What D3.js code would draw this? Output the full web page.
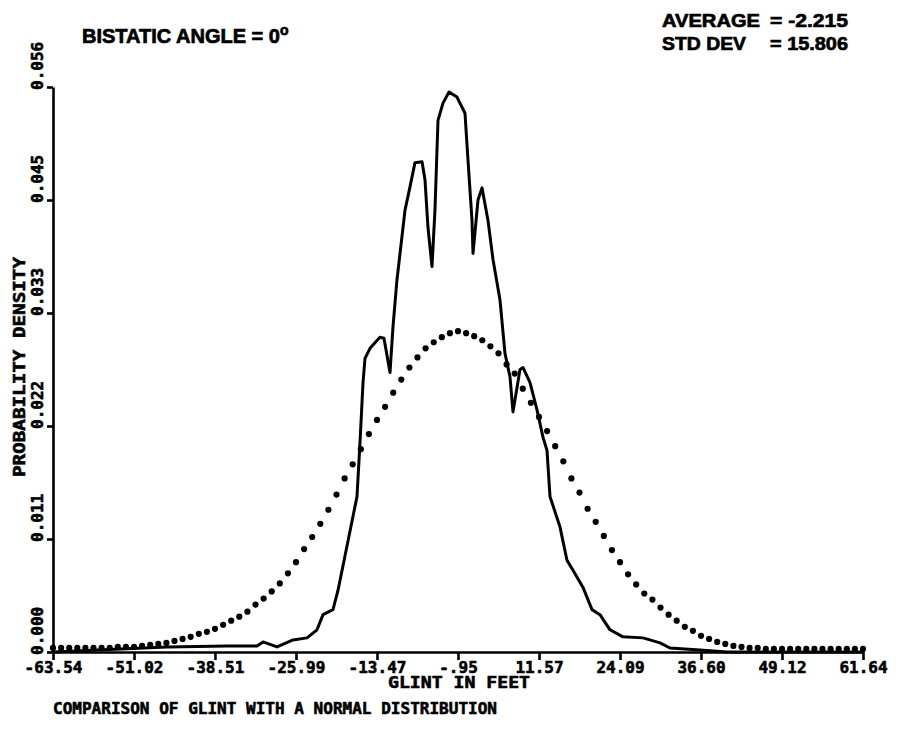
<!DOCTYPE html>
<html>
<head>
<meta charset="utf-8">
<script src="https://cdn.jsdelivr.net/npm/d3@7"></script>
<style>
  body { margin: 0; background: #fff; }
  svg { display: block; background: #fff; }
  .axis path, .axis line { stroke: #000; stroke-width: 2.6; }
  .tick-label { font-family: 'DejaVu Sans Mono', monospace; font-weight: bold; font-size: 16px; fill: #000; stroke: #000; stroke-width: 0.6; }
  .head { font-family: 'Liberation Sans', Arial, sans-serif; font-weight: bold; fill: #000; stroke: #000; stroke-width: 0.7; }
</style>
</head>
<body>
<svg width="908" height="732"></svg>
<script>
// glint histogram (solid line)
const glintX = [-63.54, -45.92, -36.65, -32.01, -31.09, -28.92, -26.45, -24.29, -22.74, -21.81,
  -20.27, -19.50, -16.56, -16.10, -15.63, -15.32, -14.55, -13.01, -12.39, -11.46,
  -11.00, -10.38, -9.91, -9.14, -8.37, -7.60, -6.51, -6.05, -5.59, -4.97,
  -4.51, -4.04, -3.27, -2.34, -1.11, 0.13, 0.59, 1.21, 1.37, 2.14,
  2.76, 3.68, 4.46, 5.54, 6.31, 7.08, 7.55, 8.63, 9.09, 10.18,
  11.26, 12.18, 12.80, 13.27, 14.81, 15.89, 16.82, 18.37, 19.76, 20.99,
  22.54, 24.55, 27.64, 30.27, 31.81, 36.45, 40.62, 61.64]
const glintDensity = [0, 0.0005, 0.0006, 0.0006, 0.0010, 0.0005, 0.0012, 0.0014, 0.0022, 0.0037,
  0.0042, 0.0061, 0.0154, 0.0207, 0.0267, 0.0291, 0.0301, 0.0312, 0.0311, 0.0277,
  0.0322, 0.0369, 0.0395, 0.0438, 0.0461, 0.0485, 0.0486, 0.0468, 0.0421, 0.0382,
  0.0438, 0.0527, 0.0544, 0.0555, 0.0550, 0.0534, 0.0488, 0.0428, 0.0395, 0.0448,
  0.0460, 0.0428, 0.0389, 0.0349, 0.0296, 0.0273, 0.0238, 0.0280, 0.0282, 0.0267,
  0.0240, 0.0213, 0.0200, 0.0154, 0.0124, 0.0091, 0.0081, 0.0064, 0.0042, 0.0037,
  0.0022, 0.0015, 0.0014, 0.0009, 0.0004, 0.0002, 0, 0]

// normal distribution (dotted), one dot per 1/100 of the range
const normalStart = -63.54
const normalStep = 1.2518
const normalDensity = [0.0004, 0.0004, 0.0004, 0.0004, 0.0004, 0.0004, 0.0004, 0.0004, 0.0005, 0.0005,
  0.0005, 0.0006, 0.0007, 0.0008, 0.0009, 0.0011, 0.0013, 0.0015, 0.0018, 0.0020,
  0.0023, 0.0027, 0.0031, 0.0035, 0.0040, 0.0047, 0.0053, 0.0060, 0.0068, 0.0078,
  0.0089, 0.0102, 0.0114, 0.0127, 0.0141, 0.0156, 0.0172, 0.0186, 0.0201, 0.0216,
  0.0230, 0.0243, 0.0257, 0.0270, 0.0282, 0.0292, 0.0301, 0.0307, 0.0312, 0.0316,
  0.0318, 0.0316, 0.0313, 0.0309, 0.0303, 0.0296, 0.0285, 0.0276, 0.0261, 0.0247,
  0.0233, 0.0219, 0.0204, 0.0189, 0.0172, 0.0158, 0.0142, 0.0129, 0.0115, 0.0101,
  0.0089, 0.0077, 0.0067, 0.0058, 0.0052, 0.0044, 0.0037, 0.0031, 0.0025, 0.0021,
  0.0016, 0.0013, 0.0010, 0.0008, 0.0006, 0.0005, 0.0004, 0.0004, 0.0003, 0.0003,
  0.0003, 0.0003, 0.0003, 0.0003, 0.0003, 0.0003, 0.0003, 0.0003, 0.0003, 0.0003,
  0.0003]

const xTicks = [-63.54, -51.02, -38.51, -25.99, -13.47, -0.95, 11.57, 24.09, 36.60, 49.12, 61.64]
const xTickLabels = ['-63.54', '-51.02', '-38.51', '-25.99', '-13.47', '-.95', '11.57', '24.09', '36.60', '49.12', '61.64']
const yTicks = [0, 0.0112, 0.0224, 0.0336, 0.0448, 0.056]
const yTickLabels = ['0.000', '0.011', '0.022', '0.033', '0.045', '0.056']

const svg = d3.select('svg')
const x = d3.scaleLinear().domain([-63.54, 61.64]).range([53, 863])
const y = d3.scaleLinear().domain([0, 0.056]).range([652, 87])

drawAxes()
drawCurves()
drawText()

function drawAxes() {
  const xAxis = svg.append('g')
    .attr('class', 'axis')
    .attr('transform', `translate(0,${y(0)})`)
    .call(d3.axisBottom(x).tickValues(xTicks).tickSize(8).tickSizeOuter(0).tickPadding(2)
      .tickFormat((d, i) => xTickLabels[i]))
  xAxis.selectAll('text').attr('class', 'tick-label').attr('font-size', null).attr('font-family', null)

  svg.append('g')
    .attr('class', 'axis')
    .attr('transform', `translate(${x(-63.54)},0)`)
    .call(d3.axisLeft(y).tickValues(yTicks).tickSize(6).tickSizeOuter(0).tickFormat(''))

  // rotated y tick labels, reading upward from the tick
  svg.append('g')
    .selectAll('text')
    .data(yTicks)
    .enter()
    .append('text')
    .attr('class', 'tick-label')
    .attr('transform', d => `translate(43,${y(d) + 3}) rotate(-90)`)
    .text((d, i) => yTickLabels[i])
}

function drawCurves() {
  const line = d3.line()
    .x((d, i) => x(glintX[i]))
    .y(d => y(d))
  svg.append('path')
    .datum(glintDensity)
    .attr('d', line)
    .attr('fill', 'none')
    .attr('stroke', '#000')
    .attr('stroke-width', 3)
    .attr('stroke-linejoin', 'round')

  svg.append('g')
    .selectAll('circle')
    .data(normalDensity)
    .enter()
    .append('circle')
    .attr('cx', (d, i) => x(normalStart + i * normalStep))
    .attr('cy', d => y(d))
    .attr('r', 3.1)
    .attr('fill', '#000')
}

function drawText() {
  const title = svg.append('text').attr('class', 'head')
    .attr('x', 82).attr('y', 43).attr('font-size', 20)
  title.append('tspan').text('BISTATIC ANGLE = 0')
  title.append('tspan').attr('dy', -8).attr('font-size', 14).text('o')

  svg.append('text').attr('class', 'head').attr('font-size', 19)
    .attr('x', 662).attr('y', 27).attr('textLength', 98).attr('lengthAdjust', 'spacingAndGlyphs')
    .text('AVERAGE')
  svg.append('text').attr('class', 'head').attr('font-size', 19)
    .attr('x', 770).attr('y', 27).attr('textLength', 78).attr('lengthAdjust', 'spacingAndGlyphs')
    .text('= -2.215')
  svg.append('text').attr('class', 'head').attr('font-size', 19)
    .attr('x', 662).attr('y', 50).attr('textLength', 84).attr('lengthAdjust', 'spacingAndGlyphs')
    .text('STD DEV')
  svg.append('text').attr('class', 'head').attr('font-size', 19)
    .attr('x', 770).attr('y', 50).attr('textLength', 78).attr('lengthAdjust', 'spacingAndGlyphs')
    .text('= 15.806')

  svg.append('text').attr('class', 'tick-label')
    .attr('x', 388).attr('y', 688).attr('textLength', 142).attr('lengthAdjust', 'spacingAndGlyphs')
    .text('GLINT IN FEET')

  svg.append('text').attr('class', 'tick-label')
    .attr('x', 53).attr('y', 714).attr('textLength', 444).attr('lengthAdjust', 'spacingAndGlyphs')
    .text('COMPARISON OF GLINT WITH A NORMAL DISTRIBUTION')

  svg.append('text').attr('class', 'tick-label')
    .attr('transform', 'translate(25,477) rotate(-90)')
    .attr('textLength', 220).attr('lengthAdjust', 'spacingAndGlyphs')
    .text('PROBABILITY DENSITY')
}
</script>
</body>
</html>
